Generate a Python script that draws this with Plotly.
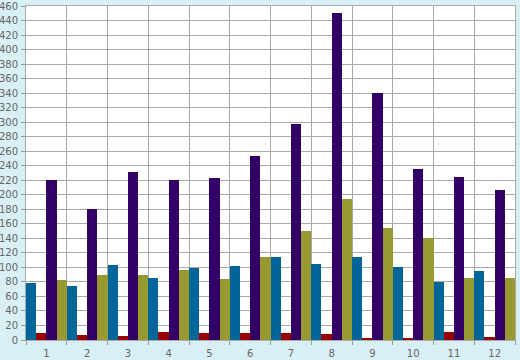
import plotly.graph_objects as go

categories = ["1", "2", "3", "4", "5", "6", "7", "8", "9", "10", "11", "12"]
series_blue = [78, 74, 103, 86, 99, 102, 114, 104, 114, 100, 80, 95]
series_red = [9, 7, 6, 11, 10, 10, 10, 8, 3, 2, 11, 4]
series_purple = [220, 180, 232, 220, 223, 254, 298, 451, 340, 235, 224, 206]
series_olive = [82, 89, 89, 96, 84, 114, 150, 194, 154, 140, 86, 86]
y_ticks = list(range(0, 461, 20))

colors = ["#006699", "#990000", "#330066", "#999933"]
names = ["Series 1", "Series 2", "Series 3", "Series 4"]
data = [series_blue, series_red, series_purple, series_olive]

fig = go.Figure()
for n, vals, c in zip(names, data, colors):
    fig.add_trace(go.Bar(x=categories, y=vals, name=n, marker=dict(color=c, line=dict(width=0))))

fig.update_layout(
    width=520, height=360,
    margin=dict(l=26, r=5, t=6, b=20, autoexpand=False),
    paper_bgcolor="#d9eff6",
    plot_bgcolor="#ffffff",
    barmode="group", bargap=0, bargroupgap=0,
    showlegend=False,
    font=dict(family="DejaVu Sans", size=10, color="#666666"),
)
fig.update_xaxes(
    type="category", tickson="boundaries", ticks="outside", ticklen=4,
    tickcolor="#999999", showgrid=True, gridcolor="#aaaaaa", gridwidth=1,
    showline=True, linecolor="#aaaaaa", mirror=True, linewidth=1,
    ticklabelstandoff=4,
    tickfont=dict(size=10, color="#666666"), automargin=False,
)
fig.update_yaxes(
    range=[0, 460], tickvals=y_ticks, ticktext=[str(v) for v in y_ticks],
    showgrid=True, gridcolor="#aaaaaa", gridwidth=1, zeroline=False,
    showline=True, linecolor="#aaaaaa", mirror=True, linewidth=1,
    ticks="outside", ticklen=4, tickcolor="#999999", ticklabelstandoff=1,
    tickfont=dict(size=10, color="#666666"), automargin=False,
)
fig.write_html(
    "out.html",
    config={"displayModeBar": False},
    post_script="document.body.style.margin='0';document.body.style.overflow='hidden';",
)
